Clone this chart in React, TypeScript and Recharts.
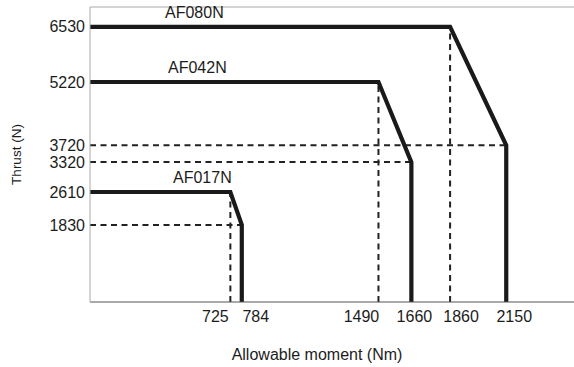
import {
  LineChart,
  Line,
  XAxis,
  YAxis,
  ReferenceLine,
  Label,
} from 'recharts';

// one entry per actuator model
const models = ['AF017N', 'AF042N', 'AF080N'];
const maxThrust = [2610, 5220, 6530];
const kneeMoment = [725, 1490, 1860];
const endThrust = [1830, 3320, 3720];
const maxMoment = [784, 1660, 2150];

const xTicks = [725, 784, 1490, 1660, 1860, 2150];
const yTicks = [1830, 2610, 3320, 3720, 5220, 6530];

// label nudges (px), only cosmetic
const xTickNudge: Record<number, number> = {
  725: -15,
  784: 14,
  1490: -17,
  1660: 3,
  1860: 11,
  2150: 8,
};
const nameDx = [83, 78, 75];

const font = '"Liberation Sans", Arial, Helvetica, sans-serif';
const ink = '#1c1c1c';

const curves = models.map((name, i) => ({
  name,
  data: [
    { x: 0, y: maxThrust[i] },
    { x: kneeMoment[i], y: maxThrust[i] },
    { x: maxMoment[i], y: endThrust[i] },
    { x: maxMoment[i], y: 0 },
  ],
}));

const guides = models.flatMap((name, i) => [
  {
    key: name + '-h',
    data: [
      { x: 0, y: endThrust[i] },
      { x: maxMoment[i], y: endThrust[i] },
    ],
  },
  {
    key: name + '-v',
    data: [
      { x: kneeMoment[i], y: 0 },
      { x: kneeMoment[i], y: maxThrust[i] },
    ],
  },
]);

const XTick = (props: any) => {
  const { x, y, payload } = props;
  return (
    <text
      x={x + (xTickNudge[payload.value] || 0)}
      y={y}
      dy='0.71em'
      textAnchor='middle'
      fill={ink}
      fontSize={16}
      fontFamily={font}
    >
      {payload.value}
    </text>
  );
};

const nameLabel = (i: number) => (props: any) => {
  if (props.index !== 0) return null;
  return (
    <text
      x={props.x + nameDx[i]}
      y={props.y - 9}
      textAnchor='start'
      fill={ink}
      fontSize={16}
      fontFamily={font}
    >
      {models[i]}
    </text>
  );
};

const App = () => (
  <div style={{ position: 'absolute', left: 0, top: 0 }}>
    <LineChart
      width={574}
      height={367}
      margin={{ top: 7, right: 0, bottom: 0, left: 0 }}
    >
      <XAxis
        type='number'
        dataKey='x'
        domain={[0, 2500]}
        ticks={xTicks}
        interval={0}
        tickLine={false}
        tickSize={6}
        tickMargin={3}
        axisLine={{ stroke: '#555', strokeWidth: 1 }}
        tick={<XTick />}
        height={65}
        allowDuplicatedCategory={false}
      >
        <Label
          content={(p: any) => (
            <text
              x={p.viewBox.x + p.viewBox.width / 2 - 15}
              y={354}
              textAnchor='middle'
              dominantBaseline='central'
              fill={ink}
              fontSize={16}
              fontFamily={font}
            >
              Allowable moment (Nm)
            </text>
          )}
        />
      </XAxis>
      <YAxis
        type='number'
        dataKey='y'
        domain={[0, 7000]}
        ticks={yTicks}
        interval={0}
        width={90}
        tickLine={false}
        tickSize={3}
        tickMargin={2}
        axisLine={{ stroke: '#aaa', strokeWidth: 1 }}
        tick={{ fill: ink, fontSize: 16, fontFamily: font }}
      >
        <Label
          content={(p: any) => {
            const cx = 16.5;
            const cy = p.viewBox.y + p.viewBox.height / 2;
            return (
              <text
                x={cx}
                y={cy}
                transform={`rotate(-90 ${cx} ${cy})`}
                textAnchor='middle'
                dominantBaseline='central'
                fill={ink}
                fontSize={13.5}
                fontFamily={font}
              >
                Thrust (N)
              </text>
            );
          }}
        />
      </YAxis>
      <ReferenceLine y={7000} stroke='#aaa' strokeWidth={1} />
      {guides.map((g) => (
        <Line
          key={g.key}
          data={g.data}
          dataKey='y'
          type='linear'
          stroke='#222'
          strokeWidth={2}
          strokeDasharray='6 4.5'
          dot={false}
          activeDot={false}
          isAnimationActive={false}
        />
      ))}
      {curves.map((c, i) => (
        <Line
          key={c.name}
          data={c.data}
          dataKey='y'
          type='linear'
          stroke='#1a1a1a'
          strokeWidth={4.2}
          strokeLinejoin='miter'
          dot={false}
          activeDot={false}
          label={nameLabel(i)}
          isAnimationActive={false}
        />
      ))}
    </LineChart>
  </div>
);

export default App;
